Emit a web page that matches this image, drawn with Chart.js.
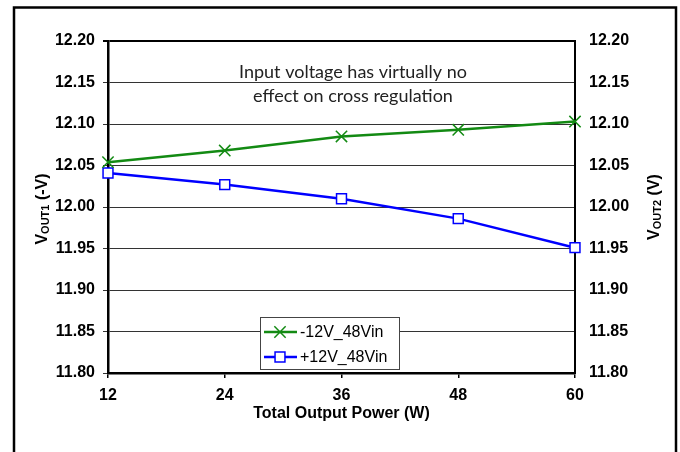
<!DOCTYPE html>
<html>
<head>
<meta charset="utf-8">
<script src="https://cdn.jsdelivr.net/npm/chart.js@4/dist/chart.umd.min.js"></script>
<style>
  body { margin: 0; background: #fff; }
</style>
</head>
<body>
<canvas id="line-chart" width="680" height="452"></canvas>
<script>
var power = [12, 24, 36, 48, 60];
var negOut = [12.054, 12.068, 12.085, 12.093, 12.103];
var posOut = [12.041, 12.027, 12.010, 11.986, 11.951];
var seriesNames = ["-12V_48Vin", "+12V_48Vin"];
var yMin = 11.80, yMax = 12.20, yStep = 0.05;
var noteLines = ["Input voltage has virtually no", "effect on cross regulation"];

var green = "#138a13";
var blue = "#0000ff";
var boldFont = { family: "'Liberation Sans', Arial, sans-serif", size: 16, weight: "bold" };

function points(ys) {
  return power.map(function (p, i) { return { x: p, y: ys[i] }; });
}

// rotated axis title with a subscript, e.g. V_OUT1 (-V)
function vTitle(ctx, x, y, sub, unit) {
  var big = "bold 16px 'Liberation Sans', Arial, sans-serif";
  var small = "bold 11px 'Liberation Sans', Arial, sans-serif";
  ctx.save();
  ctx.translate(x, y);
  ctx.rotate(-Math.PI / 2);
  ctx.fillStyle = "#000";
  ctx.textBaseline = "alphabetic";
  ctx.textAlign = "left";
  ctx.font = big; var w1 = ctx.measureText("V").width;
  ctx.font = small; var w2 = ctx.measureText(sub).width;
  ctx.font = big; var w3 = ctx.measureText(unit).width;
  var sx = -(w1 + w2 + w3) / 2;
  ctx.font = big; ctx.fillText("V", sx, 0);
  ctx.font = small; ctx.fillText(sub, sx + w1, 2);
  ctx.font = big; ctx.fillText(unit, sx + w1 + w2, 0);
  ctx.restore();
}

var extras = {
  id: "extras",
  afterDraw: function (chart) {
    var ctx = chart.ctx;
    ctx.save();
    // outer frame
    ctx.strokeStyle = "#000";
    ctx.lineWidth = 2.5;
    ctx.strokeRect(14, 7.5, 662, 470);

    // note
    ctx.fillStyle = "#222";
    ctx.font = "18px Lato, 'DejaVu Sans', sans-serif";
    ctx.textAlign = "center";
    ctx.textBaseline = "middle";
    ctx.fillText(noteLines[0], 353, 72);
    ctx.fillText(noteLines[1], 353, 96);

    vTitle(ctx, 47, 209, "OUT1", " (-V)");
    vTitle(ctx, 659, 207, "OUT2", " (V)");

    // legend box
    ctx.fillStyle = "#fff";
    ctx.fillRect(260, 317, 139, 52);
    ctx.strokeStyle = "#444";
    ctx.lineWidth = 1;
    ctx.strokeRect(260.5, 317.5, 139, 52);
    var rows = [332, 357];
    chart.data.datasets.forEach(function (ds, i) {
      var y = rows[i];
      ctx.strokeStyle = ds.borderColor;
      ctx.lineWidth = ds.borderWidth;
      ctx.beginPath();
      ctx.moveTo(264, y);
      ctx.lineTo(297, y);
      ctx.stroke();
      ctx.fillStyle = ds.pointBackgroundColor;
      ctx.strokeStyle = ds.pointBorderColor;
      ctx.lineWidth = ds.pointBorderWidth;
      Chart.helpers.drawPoint(ctx, { pointStyle: ds.pointStyle, radius: ds.pointRadius, rotation: 0, borderWidth: ds.pointBorderWidth }, 280, y);
      ctx.fillStyle = "#000";
      ctx.font = "16px 'Liberation Sans', Arial, sans-serif";
      ctx.textAlign = "left";
      ctx.textBaseline = "middle";
      ctx.fillText(ds.label, 300, y + 1);
    });
    ctx.restore();
  }
};

new Chart(document.getElementById("line-chart"), {
  type: "line",
  data: {
    datasets: [{
      label: seriesNames[0],
      data: points(negOut),
      borderColor: green,
      borderWidth: 2.5,
      pointStyle: "crossRot",
      pointRadius: 8,
      pointBorderWidth: 1.5,
      pointBorderColor: green,
      pointBackgroundColor: green,
      yAxisID: "y",
      clip: false,
      tension: 0
    }, {
      label: seriesNames[1],
      data: points(posOut),
      borderColor: blue,
      borderWidth: 2.5,
      pointStyle: "rect",
      pointRadius: 7,
      pointBorderWidth: 1.5,
      pointBorderColor: blue,
      pointBackgroundColor: "#fff",
      yAxisID: "y",
      clip: false,
      tension: 0
    }]
  },
  options: {
    responsive: false,
    animation: false,
    layout: { padding: { top: 41, left: 0, right: 0, bottom: 0 } },
    plugins: {
      legend: { display: false },
      tooltip: { enabled: false }
    },
    scales: {
      x: {
        type: "linear",
        min: 12,
        max: 60,
        ticks: { stepSize: 12, font: boldFont, color: "#000", padding: 8 },
        grid: { drawOnChartArea: false, tickLength: 5, color: "#000", lineWidth: 1.5 },
        border: { color: "#000", width: 2.5 },
        title: { display: true, text: "Total Output Power (W)", font: boldFont, color: "#000", padding: { top: 2, bottom: 29 } },
        afterFit: function (s) { s.height = 79; }
      },
      y: {
        position: "left",
        min: yMin,
        max: yMax,
        ticks: { stepSize: yStep, font: boldFont, color: "#000", padding: 8, callback: function (v) { return v.toFixed(2); } },
        grid: {
          color: function (c) { return c.tick && c.tick.value > yMax - 0.001 ? "#000" : "#333"; },
          lineWidth: function (c) { return c.tick && c.tick.value > yMax - 0.001 ? 2 : 1; },
          tickLength: 5
        },
        border: { color: "#000", width: 2.5 },
        afterFit: function (s) { s.width = 108; }
      },
      y2: {
        position: "right",
        min: yMin,
        max: yMax,
        ticks: { stepSize: yStep, font: boldFont, color: "#000", padding: 14, callback: function (v) { return v.toFixed(2); } },
        grid: { drawOnChartArea: false, drawTicks: false },
        border: { color: "#000", width: 2 },
        afterFit: function (s) { s.width = 105; }
      }
    }
  },
  plugins: [extras]
});
</script>
</body>
</html>
